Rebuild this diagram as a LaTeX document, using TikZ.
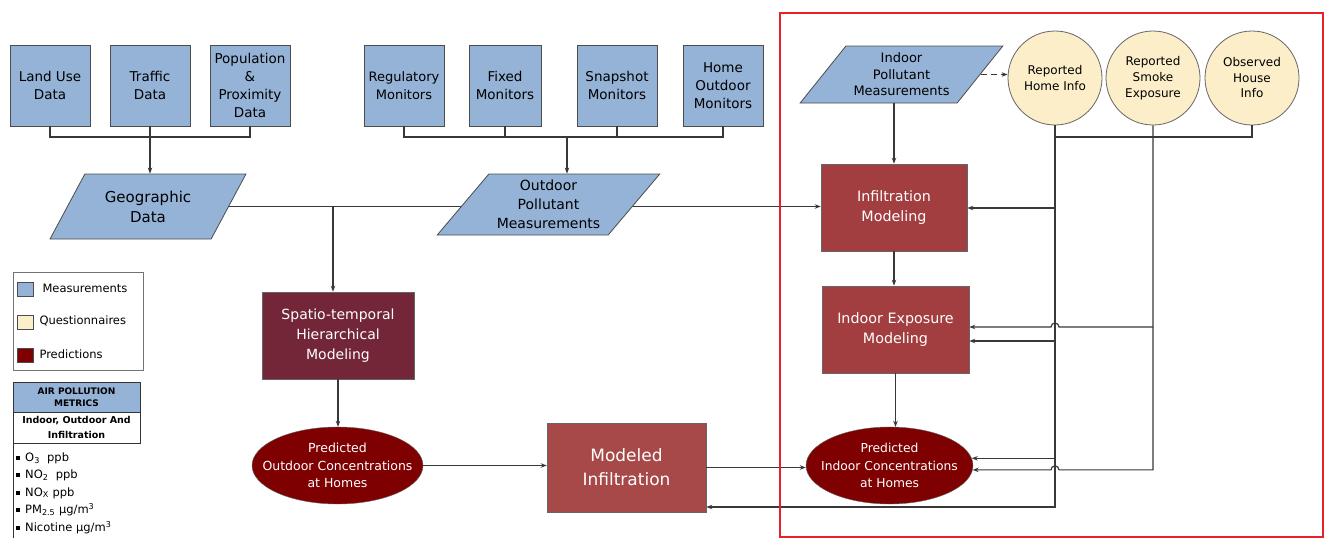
\documentclass[tikz,border=0pt]{standalone}
\usepackage{fontspec}
\setmainfont{DejaVu Sans}
\usetikzlibrary{arrows.meta,calc,shapes.geometric,backgrounds}
\definecolor{measblue}{HTML}{95B3D7}
\definecolor{questcream}{HTML}{FBEEC8}
\definecolor{predred}{HTML}{7F0000}
\definecolor{modred}{HTML}{A23E3F}
\definecolor{spatred}{HTML}{722638}
\definecolor{linegray}{HTML}{383838}
\definecolor{framered}{HTML}{E8202A}

\begin{document}
\begin{tikzpicture}[x=1pt,y=-1pt,>={Stealth[length=6pt,width=4.5pt]},
  conn/.style={draw=linegray,line width=1.2pt},
  measbox/.style={draw=black!70,fill=measblue,align=center,inner sep=0pt,line width=0.8pt},
  topbox/.style={measbox,minimum width=80,minimum height=81,font=\fontsize{13.5}{18}\selectfont},
  measpara/.style={measbox,trapezium,trapezium stretches=true},
  questcirc/.style={circle,draw=black!60,fill=questcream,minimum size=94,inner sep=0pt,align=center,line width=0.8pt,font=\fontsize{12}{16}\selectfont},
  modbox/.style={draw=black!60,fill=modred,text=white,align=center,inner sep=0pt,line width=0.6pt,font=\fontsize{14.3}{19.5}\selectfont},
  predell/.style={ellipse,draw=black!60,fill=predred,inner sep=0pt,minimum width=169,minimum height=77},
  predtext/.style={text=white,align=center,inner sep=0pt,font=\fontsize{12.5}{17.5}\selectfont},
  ]
  \useasboundingbox (0,0) rectangle (1325,538);

  \node[topbox] (landuse) at (50,85.5) {Land Use\\Data};
  \node[topbox] (traffic) at (150,85.5) {Traffic\\Data};
  \node[topbox] (popdata) at (250,85.5) {Population\\\&\\Proximity\\Data};
  \node[topbox,font=\fontsize{13}{18}\selectfont] (regmon) at (404,85.5) {Regulatory\\Monitors};
  \node[topbox,minimum width=72] (fixmon) at (505,85.5) {Fixed\\Monitors};
  \node[topbox] (snapmon) at (617,85.5) {Snapshot\\Monitors};
  \node[topbox] (homemon) at (723,85.5) {Home\\Outdoor\\Monitors};

  \node[measpara,trapezium left angle=53,trapezium right angle=127,minimum width=196,minimum height=65,
    font=\fontsize{15}{20}\selectfont] (geo) at (148,206.5) {Geographic\\Data};
  \node[measpara,trapezium left angle=47.5,trapezium right angle=132.5,minimum width=223,minimum height=61,
    font=\fontsize{14}{19}\selectfont] (outmeas) at (548.5,204.5) {Outdoor\\Pollutant\\Measurements};
  \node[measpara,trapezium left angle=47.5,trapezium right angle=132.5,minimum width=203,minimum height=57,
    font=\fontsize{13}{16.5}\selectfont] (indmeas) at (901.5,74.5) {Indoor\\Pollutant\\Measurements};

  \node[questcirc] (homeinfo) at (1055,78) {Reported\\Home Info};
  \node[questcirc] (smoke) at (1153,78) {Reported\\Smoke\\Exposure};
  \node[questcirc,font=\fontsize{12}{15.5}\selectfont] (house) at (1252,78) {Observed\\House\\Info};

  \node[modbox,minimum width=146,minimum height=87] (infil) at (894,207.5) {Infiltration\\Modeling};
  \node[modbox,minimum width=147,minimum height=87] (indexp) at (895.5,329.5) {Indoor Exposure\\Modeling};
  \node[predell,minimum width=167] (predin) at (889.5,465.5) {};
  \node[predtext,font=\fontsize{12.3}{17.5}\selectfont] (predintxt) at (predin) {Predicted\\Indoor Concentrations\\at Homes};

  \node[modbox,fill=spatred,minimum width=152,minimum height=87,font=\fontsize{14}{20}\selectfont] (spatio) at (338,335.5) {Spatio-temporal\\Hierarchical\\Modeling};
  \node[predell,minimum width=171] (predout) at (337.5,465.5) {};
  \node[predtext] (predouttxt) at (predout) {Predicted\\Outdoor Concentrations\\at Homes};
  \node[modbox,fill=modred!95!white,minimum width=159,minimum height=89,font=\fontsize{17}{24}\selectfont] (modinf) at (626.5,467.5) {Modeled\\Infiltration};

  \coordinate (dbus) at (150,137);
  \coordinate (mbus) at (567,137);
  \coordinate (gjoin) at (333,206.5);
  \coordinate (qbus) at (1055,137);
  \coordinate (qback) at (1055,507);
  \coordinate (hinf) at (1055,208);
  \coordinate (hexp) at (1055,341);
  \coordinate (sexp) at (1153,327);
  \coordinate (spred) at (smoke.south |- predin.-3);

  \draw[conn] (landuse.south) |- (dbus) -| (popdata.south);
  \draw[conn,->] (traffic.south) -- (traffic.south |- geo.north);
  \draw[conn] (regmon.south) |- (mbus) -| (homemon.south);
  \draw[conn] (fixmon.south) -- (fixmon.south |- mbus);
  \draw[conn] (snapmon.south) -- (snapmon.south |- mbus);
  \draw[conn,->] (mbus) -- (mbus |- outmeas.north);

  \begin{scope}[on background layer]
    \draw[conn,->] (geo.east) -- (geo.east -| infil.west);
  \end{scope}
  \draw[conn,->] (gjoin) -- (gjoin |- spatio.north);
  \draw[conn,->] (spatio.south) -- (spatio.south |- predout.north);
  \draw[conn,->] (predout.east) -- (predout.east -| modinf.west);
  \draw[conn,->] (modinf.east) -- (modinf.east -| predin.west);

  \draw[conn,->,dash pattern=on 6pt off 4pt] (indmeas.east) -- (indmeas.east -| homeinfo.west);
  \draw[conn,->] (infil.north |- indmeas.south) -- (infil.north);
  \draw[conn,->] (infil.south) -- (infil.south |- indexp.north);
  \draw[conn,->] (indexp.south) -- (indexp.south |- predin.north);

  \draw[conn] (house.south) |- (qbus);
  \draw[conn,->] (homeinfo.south) -- (qback) -- (qback -| modinf.east);
  \draw[conn,->] (hinf) -- (hinf -| infil.east);
  \draw[conn,->] (hexp) -- (hexp -| indexp.east);
  \draw[conn,->] (qbus |- predin.5) -- (predin.5);
  \draw[conn,->] (sexp) -- ($(sexp -| qbus)+(4,0)$) arc[start angle=0,end angle=-180,radius=4] -- (sexp -| indexp.east);
  \draw[conn,->] (smoke.south) -- (spred) -- ($(spred -| qbus)+(4,0)$) arc[start angle=0,end angle=-180,radius=4] -- (predin.-3);

  \draw[framered,line width=2pt] (780,13) rectangle (1323,537);

  \draw[black!55,line width=0.8pt] (13,272) rectangle (143,370);
  \draw[black!70,fill=measblue] (17,282) rectangle (33,296);
  \draw[black!70,fill=questcream] (17,315) rectangle (33,329);
  \draw[black!70,fill=predred] (17,348) rectangle (33,362);
  \node[anchor=west,font=\fontsize{11.5}{14}\selectfont] (legmeas) at (39,288) {Measurements};
  \node[anchor=west,font=\fontsize{11.5}{14}\selectfont] (legquest) at (36,321) {Questionnaires};
  \node[anchor=west,font=\fontsize{11.5}{14}\selectfont] (legpred) at (36,354) {Predictions};

  \fill[measblue] (13,382) rectangle (140,412);
  \draw[black!80,line width=0.9pt] (13,382) rectangle (140,443);
  \draw[black!80,line width=0.9pt] (13,412) -- (140,412);
  \draw[black!80,line width=0.9pt] (13,443) -- (13,538);
  \node[align=center,font=\bfseries\fontsize{9}{12}\selectfont] (mettitle) at (76.5,397) {AIR POLLUTION\\METRICS};
  \node[align=center,font=\bfseries\fontsize{9.5}{15}\selectfont] (metsub) at (76.5,427.5) {Indoor, Outdoor And\\Infiltration};
  \foreach \yy/\txt in {458/{O\textsubscript{3}\ \ ppb},475/{NO\textsubscript{2}\ \ ppb},493/{NO\textsubscript{X}\ ppb},
      510/{PM\textsubscript{2.5} µg/m\textsuperscript{3}},528/{Nicotine µg/m\textsuperscript{3}}}{
    \fill (16,\yy-2) rectangle (20,\yy+2);
    \node[anchor=west,inner sep=0pt,font=\fontsize{11.5}{14}\selectfont] at (25,\yy) {\txt};
  }
\end{tikzpicture}
\end{document}
